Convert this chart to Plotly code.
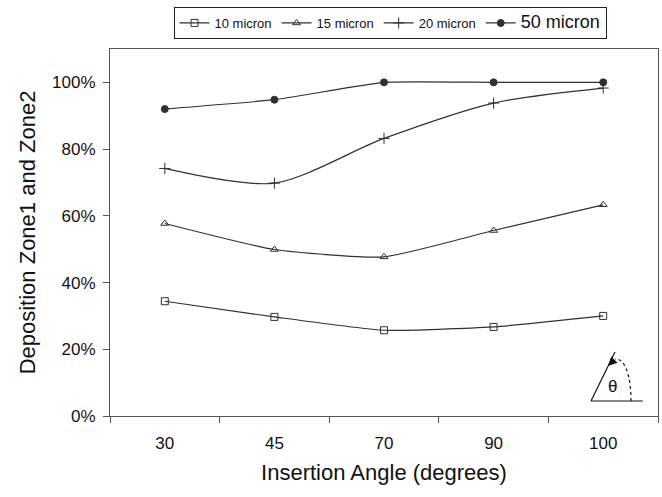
import plotly.graph_objects as go

angles = ["30", "45", "70", "90", "100"]
micron10 = [0.344, 0.297, 0.257, 0.267, 0.300]
micron15 = [0.577, 0.499, 0.477, 0.556, 0.633]
micron20 = [0.742, 0.698, 0.832, 0.938, 0.983]
micron50 = [0.920, 0.948, 1.000, 1.000, 1.000]

W, H = 662, 497
L, R, T, B = 110, 658, 49, 416

def px(x):
    return (x - L) / (R - L)

def py(y):
    return (B - y) / (B - T)

line_col = "#303030"
fig = go.Figure()
series = [
    ("10 micron", micron10, dict(symbol="square-open", size=7), 0.5),
    ("15 micron", micron15, dict(symbol="triangle-up-open", size=7), 0.5),
    ("20 micron", micron20, dict(symbol="cross-thin-open", size=8), 0.8),
    ('<span style="font-size:18px">50 micron</span>', micron50, dict(symbol="circle", size=7), 0.4),
]
for name, vals, mk, sm in series:
    mk = dict(mk, color=line_col, line=dict(color=line_col, width=1))
    fig.add_trace(go.Scatter(
        x=angles, y=vals, name=name, mode="lines+markers",
        line=dict(color=line_col, width=1.2, shape="spline", smoothing=sm),
        marker=mk,
    ))

font = "Liberation Sans, Arial, sans-serif"

fig.update_layout(
    width=W, height=H,
    margin=dict(l=L, r=W - R, t=T, b=H - B, pad=0),
    paper_bgcolor="white", plot_bgcolor="white",
    font=dict(family=font, color="#111111", size=16),
    showlegend=True,
    legend=dict(
        orientation="h", xref="paper", yref="paper",
        x=px(390), y=py(7), xanchor="center", yanchor="top",
        bordercolor="#222222", borderwidth=1, bgcolor="white",
        font=dict(size=13, family=font),
        itemwidth=30, tracegroupgap=0,
    ),
    xaxis=dict(
        type="category", range=[-0.5, 4.5],
        showline=True, linecolor="#555555", linewidth=1, mirror=True,
        ticks="outside", ticklen=6, tickcolor="#555555", tickson="boundaries",
        ticklabelstandoff=12, showgrid=False, zeroline=False,
        tickfont=dict(size=17),
        title=dict(text="Insertion Angle (degrees)", font=dict(size=22, family=font), standoff=12),
    ),
    yaxis=dict(
        range=[0, 1.1], tickvals=[0, 0.2, 0.4, 0.6, 0.8, 1.0],
        tickformat=".0%", showline=True, linecolor="#555555", linewidth=1, mirror=True,
        ticks="outside", ticklen=6, tickcolor="#555555", ticklabelstandoff=4,
        showgrid=False, zeroline=False, tickfont=dict(size=17),
        title=dict(text="Deposition Zone1 and Zone2", font=dict(size=22, family=font), standoff=10),
    ),
)

# theta angle icon (decoration)
ic = "#111111"
fig.add_shape(type="line", xref="paper", yref="paper",
              x0=px(591), y0=py(401), x1=px(643), y1=py(401), line=dict(color=ic, width=1.2))
fig.add_shape(type="line", xref="paper", yref="paper",
              x0=px(591), y0=py(401), x1=px(615), y1=py(352), line=dict(color=ic, width=1.2))
fig.add_shape(type="path", xref="paper", yref="paper",
              path=f"M {px(631)},{py(401)} C {px(631)},{py(376)} {px(625)},{py(358)} {px(615)},{py(359)}",
              line=dict(color=ic, width=1.2, dash="dot"))
fig.add_annotation(xref="paper", yref="paper", x=px(608), y=py(366),
                   ax=7, ay=-7, axref="pixel", ayref="pixel",
                   showarrow=True, arrowhead=2, arrowsize=1.2, arrowwidth=1.5, arrowcolor=ic, text="")
fig.add_annotation(xref="paper", yref="paper", x=px(612), y=py(386), text="θ",
                   xanchor="center", yanchor="middle",
                   showarrow=False, font=dict(size=17, family=font, color=ic))

fig.write_html("out.html")
